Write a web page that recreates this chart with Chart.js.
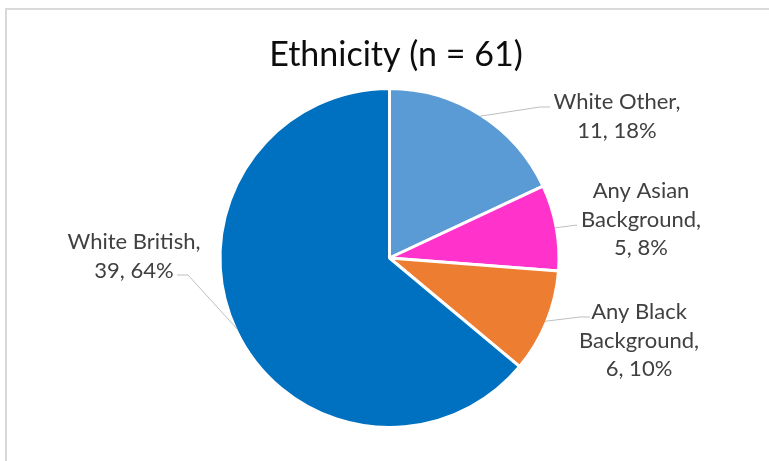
<!DOCTYPE html>
<html>
<head>
<meta charset="utf-8">
<script src="https://cdn.jsdelivr.net/npm/chart.js@4.4.1/dist/chart.umd.min.js"></script>
<style>
  html, body { margin: 0; padding: 0; background: #ffffff; }
  #wrap { width: 769px; height: 461px; position: relative; }
</style>
</head>
<body>
<div id="wrap"><canvas id="c" width="769" height="461"></canvas></div>
<script>
// Ethnicity breakdown of respondents
const categories = ['White Other', 'Any Asian Background', 'Any Black Background', 'White British'];
const counts = [11, 5, 6, 39];
const sliceColours = ['#5B9BD5', '#FF33CC', '#ED7D31', '#0070C0'];

const total = counts.reduce((a, b) => a + b, 0);
const titleText = 'Ethnicity (n = ' + total + ')';

// Where each data label sits: text centre x, first line centre y,
// and the leader line's elbow and end points.
const labelLayout = [
  { x: 617, y: 102, elbow: [540, 107], end: [550, 107] },
  { x: 641, y: 191, elbow: [577, 225], end: [577, 225] },
  { x: 639, y: 312, elbow: [580, 317], end: [590, 317] },
  { x: 134, y: 242, elbow: [188, 275], end: [177, 275] }
];

const FONT = 'Lato, "Open Sans", sans-serif';
const LABEL_SIZE = 22;
const LINE_H = 28.5;
const TITLE_SIZE = 34;

function wrap(ctx, text, maxW) {
  const words = text.split(' ');
  const lines = [];
  let cur = '';
  for (const w of words) {
    const t = cur ? cur + ' ' + w : w;
    if (cur && ctx.measureText(t).width > maxW) { lines.push(cur); cur = w; }
    else cur = t;
  }
  if (cur) lines.push(cur);
  return lines;
}

const annotate = {
  id: 'annotate',
  beforeDraw(chart) {
    const ctx = chart.ctx;
    ctx.save();
    ctx.fillStyle = '#ffffff';
    ctx.fillRect(0, 0, chart.width, chart.height);
    // chart frame (top and left edges fall inside the canvas)
    ctx.fillStyle = '#d9d9d9';
    ctx.fillRect(5, 8, chart.width, 2);
    ctx.fillRect(5, 8, 2, chart.height);
    ctx.restore();
  },
  afterDatasetsDraw(chart) {
    const ctx = chart.ctx;
    const arcs = chart.getDatasetMeta(0).data;
    const values = chart.data.datasets[0].data;
    const sum = values.reduce((a, b) => a + b, 0);
    ctx.save();

    // title
    ctx.font = TITLE_SIZE + 'px ' + FONT;
    ctx.fillStyle = '#0d0d0d';
    ctx.textAlign = 'center';
    ctx.textBaseline = 'middle';
    ctx.fillText(titleText, 396, 55);

    arcs.forEach((arc, i) => {
      const p = arc.getProps(['x', 'y', 'startAngle', 'endAngle', 'outerRadius'], true);
      const mid = (p.startAngle + p.endAngle) / 2;
      const sx = p.x + Math.cos(mid) * (p.outerRadius - 1.5);
      const sy = p.y + Math.sin(mid) * (p.outerRadius - 1.5);
      const L = labelLayout[i];

      // leader line
      ctx.strokeStyle = '#bfbfbf';
      ctx.lineWidth = 1;
      ctx.beginPath();
      ctx.moveTo(sx, sy);
      ctx.lineTo(L.elbow[0], L.elbow[1]);
      ctx.lineTo(L.end[0], L.end[1]);
      ctx.stroke();

      // label text
      ctx.font = LABEL_SIZE + 'px ' + FONT;
      ctx.fillStyle = '#404040';
      const pct = Math.round(values[i] / sum * 100);
      const lines = wrap(ctx, chart.data.labels[i] + ',', 140);
      lines.push(values[i] + ', ' + pct + '%');
      lines.forEach((ln, k) => ctx.fillText(ln, L.x, L.y + k * LINE_H));
    });
    ctx.restore();
  }
};

new Chart(document.getElementById('c'), {
  type: 'pie',
  data: {
    labels: categories,
    datasets: [{
      data: counts,
      backgroundColor: sliceColours,
      borderColor: '#ffffff',
      borderWidth: 3
    }]
  },
  options: {
    responsive: false,
    animation: false,
    devicePixelRatio: 1,
    layout: { padding: { top: 87, bottom: 32, left: 200, right: 190 } },
    plugins: {
      legend: { display: false },
      tooltip: { enabled: false },
      title: { display: false }
    }
  },
  plugins: [annotate]
});
</script>
</body>
</html>
